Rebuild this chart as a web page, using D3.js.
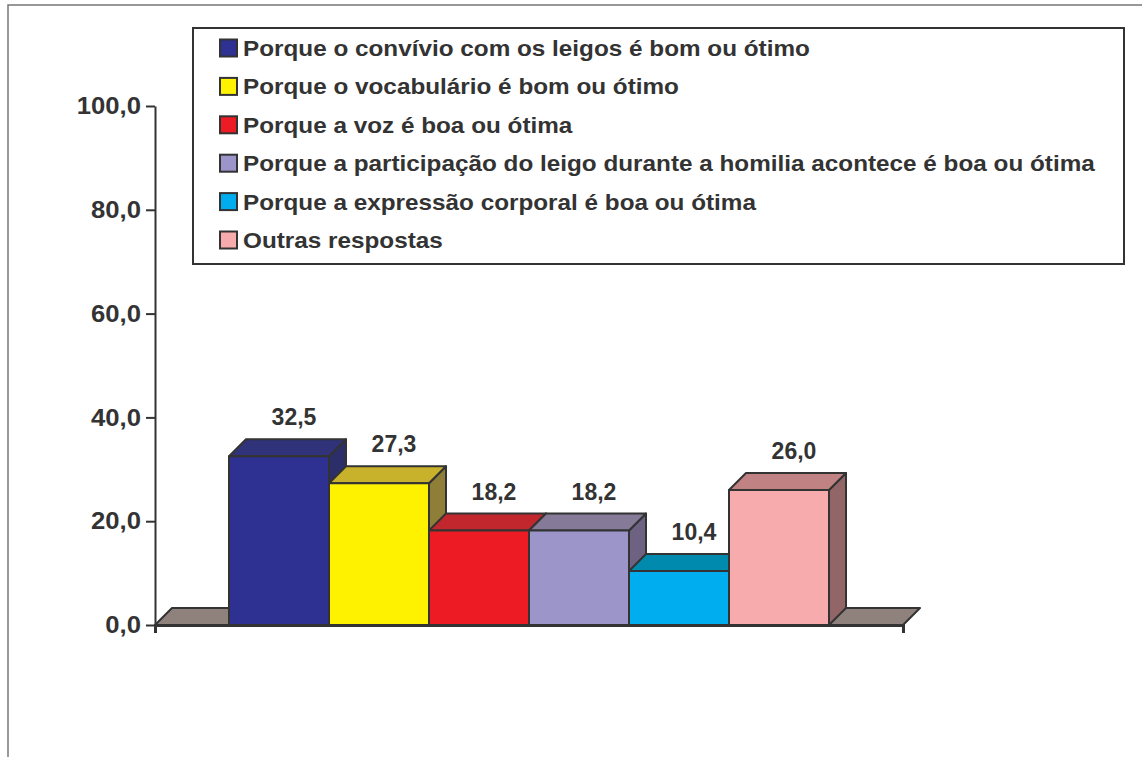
<!DOCTYPE html>
<html>
<head>
<meta charset="utf-8">
<script src="https://cdn.jsdelivr.net/npm/d3@7"></script>
<style>
  html, body { margin: 0; padding: 0; background: #fff; }
  svg { display: block; }
  text { font-family: "Liberation Sans", Arial, sans-serif; font-weight: bold; fill: #333; }
</style>
</head>
<body>
<svg id="chart" width="1142" height="757"></svg>
<script>
// Survey categories, percentages and fill colours (front, top, side faces)
const categories = [
  "Porque o convívio com os leigos é bom ou ótimo",
  "Porque o vocabulário é bom ou ótimo",
  "Porque a voz é boa ou ótima",
  "Porque a participação do leigo durante a homilia acontece é boa ou ótima",
  "Porque a expressão corporal é boa ou ótima",
  "Outras respostas"
];
const values = [32.5, 27.3, 18.2, 18.2, 10.4, 26.0];
const frontColors = ["#2e3192", "#fff200", "#ed1c24", "#9b95c9", "#00aeef", "#f7abac"];
const topColors   = ["#30337a", "#c9b22b", "#c1272d", "#857b98", "#008aae", "#c08283"];
const sideColors  = ["#2c2e6a", "#8f7e37", "#8c1c22", "#6d6282", "#00708c", "#926666"];
const yTicks = [0, 20, 40, 60, 80, 100];

const svg = d3.select("#chart");
const stroke = "#333";
const depth = 17;           // oblique offset of the 3D depth
const fmt = v => v.toFixed(1).replace(".", ",");

const x = d3.scaleBand().domain(categories).range([155, 903]).paddingInner(0).paddingOuter(0.74);
const y = d3.scaleLinear().domain([0, 100]).range([625, 106]);

// Outer frame (top and left edges)
svg.append("path")
  .attr("d", "M8,757V5H1142")
  .attr("fill", "none").attr("stroke", "#777").attr("stroke-width", 1.5);

// Floor of the plot
const [fx0, fx1] = x.range();
const y0 = y(0);
svg.append("path")
  .attr("d", `M${fx0},${y0}L${fx0 + depth},${y0 - depth}L${fx1 + depth},${y0 - depth}L${fx1},${y0}Z`)
  .attr("fill", "#8f827d").attr("stroke", stroke).attr("stroke-width", 2).attr("stroke-linejoin", "round");

// Bars, drawn left to right so each one sits in front of the previous side face
const bars = svg.append("g");
categories.forEach((c, i) => {
  const x0 = x(c), x1 = x0 + x.bandwidth();
  const yt = y(values[i]);
  const g = bars.append("g")
    .attr("stroke", stroke).attr("stroke-width", 2).attr("stroke-linejoin", "round");
  g.append("path")
    .attr("d", `M${x1},${yt}L${x1 + depth},${yt - depth}L${x1 + depth},${y0 - depth}L${x1},${y0}Z`)
    .attr("fill", sideColors[i]);
  g.append("path")
    .attr("d", `M${x0},${yt}L${x0 + depth},${yt - depth}L${x1 + depth},${yt - depth}L${x1},${yt}Z`)
    .attr("fill", topColors[i]);
  g.append("rect")
    .attr("x", x0).attr("y", yt).attr("width", x1 - x0).attr("height", y0 - yt)
    .attr("fill", frontColors[i]);
});

// Value labels
svg.append("g").selectAll("text")
  .data(categories)
  .join("text")
  .attr("x", (c) => x(c) + x.bandwidth() / 2 + 15)
  .attr("y", (c, i) => y(values[i]) - depth - 14)
  .attr("text-anchor", "middle")
  .style("font-size", "23px")
  .text((c, i) => fmt(values[i]));

// Y axis
const yAxis = svg.append("g")
  .attr("transform", `translate(${fx0},0)`)
  .call(d3.axisLeft(y).tickValues(yTicks).tickFormat(fmt).tickSize(9).tickSizeOuter(0).tickPadding(4));
yAxis.selectAll("path, line").attr("stroke", stroke).attr("stroke-width", 2);
yAxis.selectAll("text")
  .attr("x", 0)
  .attr("transform", "translate(-14,0) scale(1.07,1)")
  .style("font-size", "24px").attr("fill", "#333");

// X axis baseline with end ticks
const xAxis = svg.append("g")
  .attr("transform", `translate(0,${y0})`)
  .call(d3.axisBottom(x).tickValues([]).tickSizeOuter(8));
xAxis.select("path").attr("stroke", stroke).attr("stroke-width", 3);

// Legend
const legend = svg.append("g");
legend.append("rect")
  .attr("x", 193).attr("y", 28).attr("width", 931).attr("height", 236)
  .attr("fill", "#fff").attr("stroke", stroke).attr("stroke-width", 2);
const rows = legend.selectAll("g.row")
  .data(categories)
  .join("g")
  .attr("class", "row")
  .attr("transform", (c, i) => `translate(220,${48 + i * 38.4})`);
rows.append("rect")
  .attr("x", 0).attr("y", -8.5).attr("width", 17).attr("height", 17)
  .attr("fill", (c, i) => frontColors[i]).attr("stroke", stroke).attr("stroke-width", 2);
rows.append("text")
  .attr("transform", "translate(23,8) scale(1.13,1)")
  .style("font-size", "21.5px")
  .text(c => c);
</script>
</body>
</html>
